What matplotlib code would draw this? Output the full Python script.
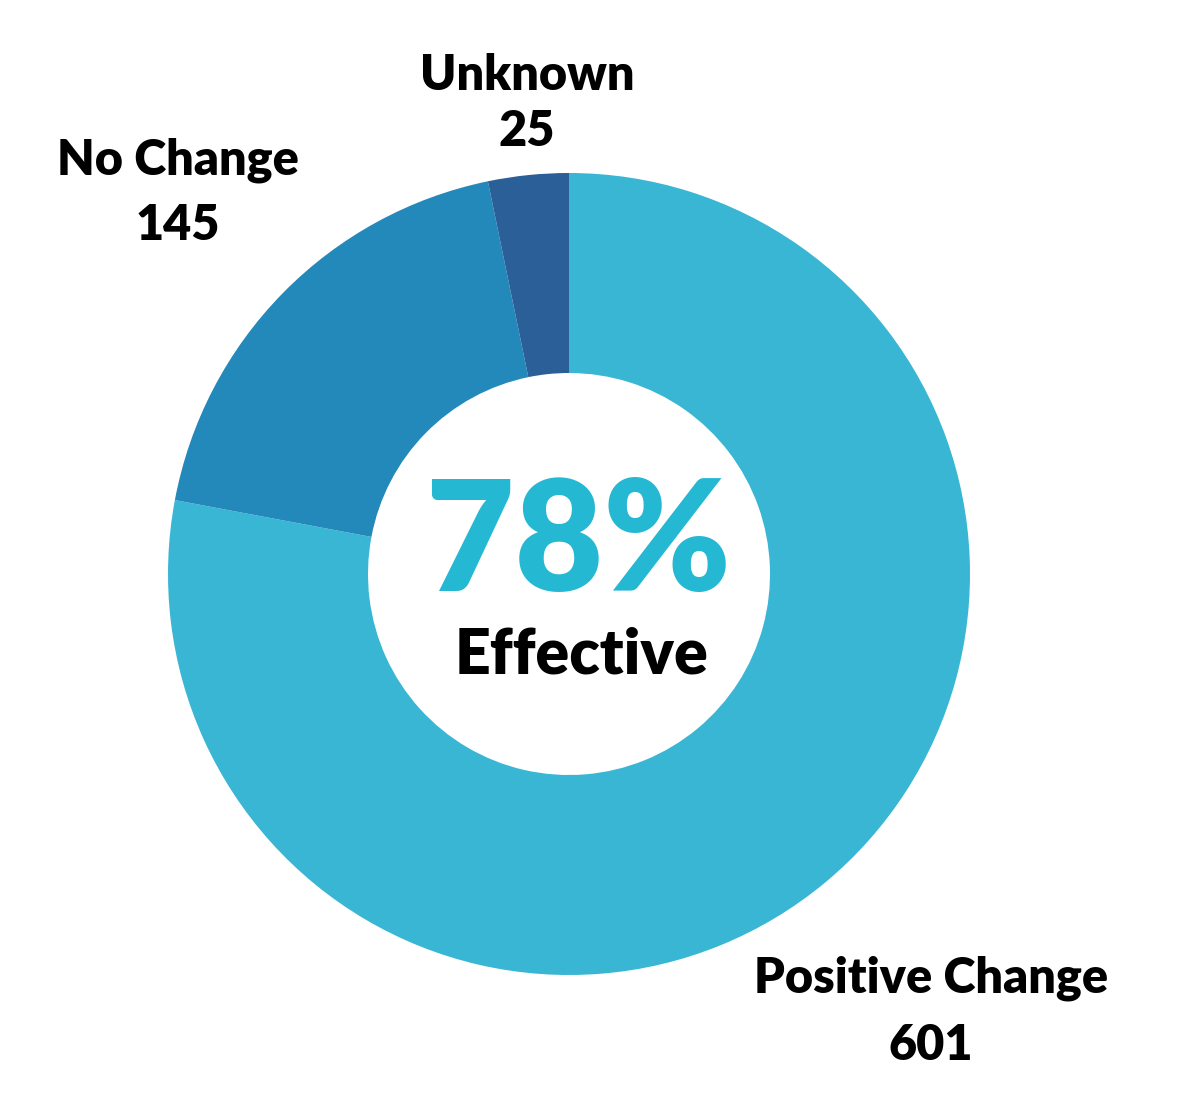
import matplotlib
matplotlib.use("Agg")
import matplotlib.pyplot as plt

categories = ["Positive Change", "No Change", "Unknown"]
values = [601, 145, 25]
colors = ["#38B6D4", "#2389BB", "#2B5F97"]
center_pct = "78%"
center_label = "Effective"

W, H = 1184, 1102
fig = plt.figure(figsize=(W / 100, H / 100), dpi=100)
ax = fig.add_axes([0, 0, 1, 1])
ax.set_xlim(0, W)
ax.set_ylim(0, H)
ax.set_aspect("equal")
ax.axis("off")

cx, cy = 569, H - 574
ax.pie(values, colors=colors, startangle=90, counterclock=False,
       center=(cx, cy), radius=401,
       wedgeprops=dict(width=200, linewidth=0))
ax.set_xlim(0, W)
ax.set_ylim(0, H)

font = dict(family=["Lato", "DejaVu Sans"], fontweight="heavy", color="black")

label_pos = {
    "Unknown": (527, H - 75, H - 132),
    "No Change": (178, H - 160, H - 226),
    "Positive Change": (931, H - 978, H - 1045),
}
for cat, val in zip(categories, values):
    x, y1, y2 = label_pos[cat]
    ax.text(x, y1, cat, ha="center", va="center", fontsize=35, **font)
    ax.text(x, y2, str(val), ha="center", va="center", fontsize=35, **font)

ax.text(578, H - 546, center_pct, ha="center", va="center", fontsize=110,
        family=["Lato", "DejaVu Sans"], fontweight="heavy", color="#25B8D3")
ax.text(582, H - 655, center_label, ha="center", va="center", fontsize=45, **font)

fig.savefig("out.png", dpi=100)
